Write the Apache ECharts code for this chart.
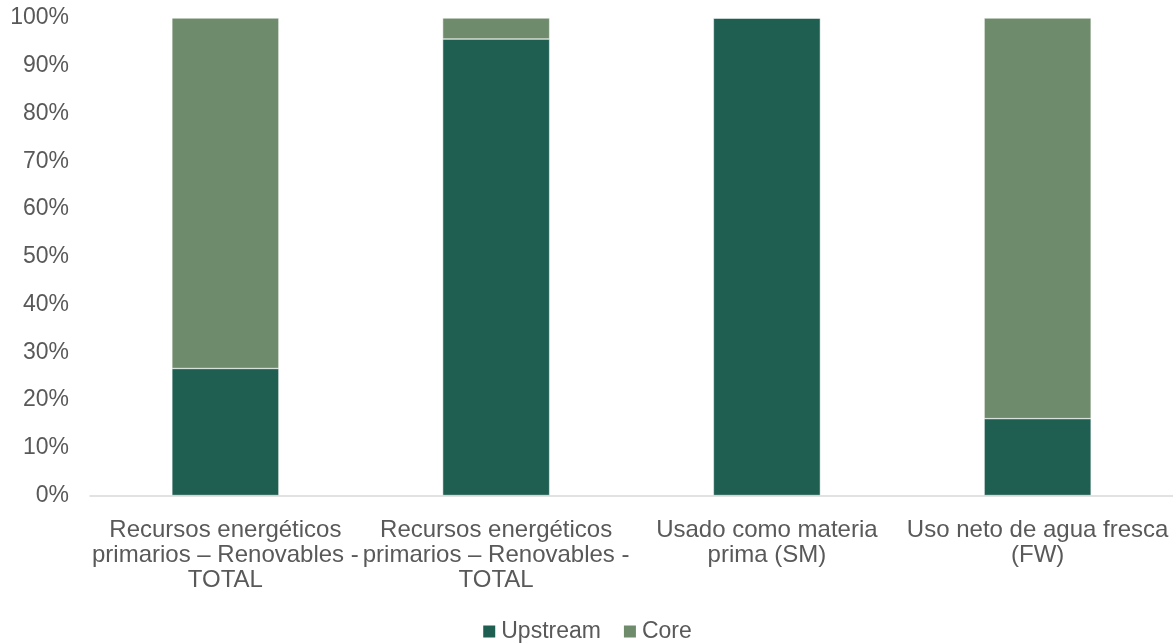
<!DOCTYPE html>
<html><head><meta charset="utf-8">
<script src="https://cdn.jsdelivr.net/npm/echarts@6/dist/echarts.min.js"></script>
<style>html,body{margin:0;padding:0;background:#fff}#c{width:1173px;height:643px}</style>
</head><body><div id="c"></div>
<script>
const categories = [
  "Recursos energéticos\nprimarios – Renovables -\nTOTAL",
  "Recursos energéticos\nprimarios – Renovables -\nTOTAL",
  "Usado como materia\nprima (SM)",
  "Uso neto de agua fresca\n(FW)"
];
const upstream = [26.6, 95.6, 100, 16.1];
const core = [73.4, 4.4, 0, 83.9];
const chart = echarts.init(document.getElementById('c'));
chart.setOption({
  animation: false,
  grid: {left: 90, right: 0, top: 18, bottom: 147.5},
  legend: {
    top: 620, left: 'center', itemWidth: 14, itemHeight: 14, itemGap: 21, padding: 0,
    icon: 'rect',
    textStyle: {fontFamily: 'Liberation Sans', fontSize: 23, color: '#595959'},
    data: ['Upstream', 'Core']
  },
  xAxis: {
    type: 'category', data: categories,
    axisLine: {lineStyle: {color: '#d9d9d9', width: 1.5}},
    axisTick: {show: false},
    axisLabel: {fontFamily: 'Liberation Sans', fontSize: 24, color: '#595959', lineHeight: 25, margin: 22, interval: 0}
  },
  yAxis: {
    type: 'value', min: 0, max: 100, interval: 10,
    splitLine: {show: false},
    axisLine: {show: false}, axisTick: {show: false},
    axisLabel: {formatter: '{value}%', fontFamily: 'Liberation Sans', fontSize: 23, color: '#595959', margin: 21}
  },
  series: [
    {name: 'Upstream', type: 'bar', stack: 's', data: upstream, barWidth: 107,
     itemStyle: {color: '#1f5f52', borderColor: '#ffffff', borderWidth: 0.5}},
    {name: 'Core', type: 'bar', stack: 's', data: core, barWidth: 107,
     itemStyle: {color: '#6e8b6b', borderColor: '#ffffff', borderWidth: 0.5}}
  ]
});
</script></body></html>
